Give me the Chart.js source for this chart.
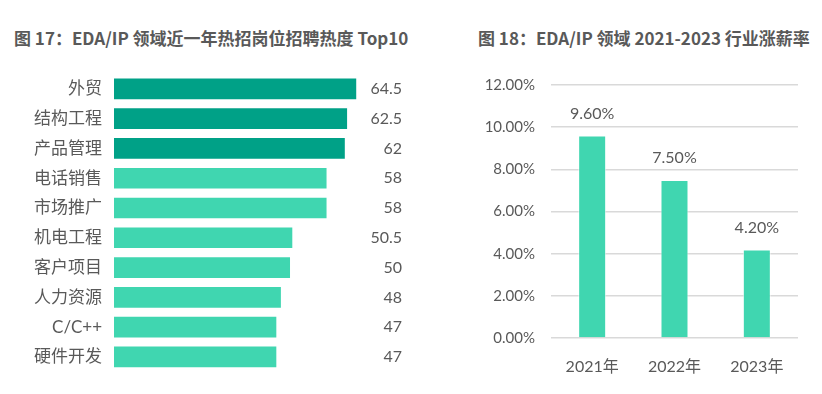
<!DOCTYPE html>
<html>
<head>
<meta charset="utf-8">
<script src="https://cdn.jsdelivr.net/npm/chart.js@4/dist/chart.umd.min.js"></script>
<style>
  body { margin: 0; background: #fff; width: 822px; height: 394px; position: relative; overflow: hidden; }
  .title { position: absolute; top: 25px; font: bold 17px "Noto Sans CJK SC", sans-serif; color: #595959; white-space: nowrap; line-height: 26px; }
  canvas { position: absolute; top: 0; }
</style>
</head>
<body>
<div class="title" style="left:14px">图 17：EDA/IP 领域近一年热招岗位招聘热度 Top10</div>
<div class="title" style="left:478px">图 18：EDA/IP 领域 2021-2023 行业涨薪率</div>
<canvas id="jobChart" style="left:0"></canvas>
<canvas id="rateChart" style="left:440px"></canvas>
<script>
// hot jobs (left)
const jobs = ['外贸', '结构工程', '产品管理', '电话销售', '市场推广', '机电工程', '客户项目', '人力资源', 'C/C++', '硬件开发'];
const jobHeat = [64.5, 62.5, 62, 58, 58, 50.5, 50, 48, 47, 47];

// salary growth (right)
const years = ['2021年', '2022年', '2023年'];
const raiseRate = [9.6, 7.5, 4.2];

const textColor = '#595959';
const darkGreen = '#00A187';
const lightGreen = '#40D6B0';
const font = 'Lato, "Noto Sans CJK SC", sans-serif';

Chart.defaults.font.family = font;
Chart.defaults.color = textColor;

function setSize(id, w, h) {
    const c = document.getElementById(id);
    c.width = w; c.height = h;
    c.style.width = w + 'px'; c.style.height = h + 'px';
    return c.getContext('2d');
}

const jobLabels = {
    id: 'jobLabels',
    afterDatasetsDraw(chart) {
        const ctx = chart.ctx;
        const meta = chart.getDatasetMeta(0);
        ctx.save();
        ctx.font = '16px ' + font;
        ctx.fillStyle = textColor;
        ctx.textAlign = 'right';
        ctx.textBaseline = 'middle';
        meta.data.forEach((bar, i) => {
            ctx.fillText(String(jobHeat[i]), chart.chartArea.right + 20, bar.y);
        });
        ctx.restore();
    }
};

new Chart(setSize('jobChart', 440, 394), {
    type: 'bar',
    data: {
        labels: jobs,
        datasets: [{
            data: jobHeat,
            backgroundColor: jobHeat.map((v, i) => i < 3 ? darkGreen : lightGreen),
            borderColor: 'rgba(255,255,255,0.6)',
            borderWidth: 1,
            barThickness: 22
        }]
    },
    options: {
        indexAxis: 'y',
        responsive: false,
        animation: false,
        layout: { padding: { top: 74, bottom: 20, right: 58, left: 0 } },
        plugins: { legend: { display: false }, tooltip: { enabled: false } },
        scales: {
            x: { display: false, min: 11.3, max: 70 },
            y: {
                grid: { display: false, drawTicks: false },
                border: { display: false },
                ticks: { font: { size: 17 }, color: textColor, padding: 12 },
                afterFit(scale) { scale.width = 114; }
            }
        }
    },
    plugins: [jobLabels]
});

const rateLabels = {
    id: 'rateLabels',
    afterDatasetsDraw(chart) {
        const ctx = chart.ctx;
        const meta = chart.getDatasetMeta(0);
        ctx.save();
        ctx.font = '16px ' + font;
        ctx.fillStyle = textColor;
        ctx.textAlign = 'center';
        ctx.textBaseline = 'middle';
        meta.data.forEach((bar, i) => {
            ctx.fillText(raiseRate[i].toFixed(2) + '%', bar.x, bar.y - 22);
        });
        ctx.restore();
    }
};

new Chart(setSize('rateChart', 382, 394), {
    type: 'bar',
    data: {
        labels: years,
        datasets: [{
            data: raiseRate,
            backgroundColor: lightGreen,
            borderColor: 'rgba(255,255,255,0.6)',
            borderWidth: 1,
            barPercentage: 0.68,
            categoryPercentage: 0.5
        }]
    },
    options: {
        responsive: false,
        animation: false,
        layout: { padding: { top: 85, bottom: 0, right: 24, left: 0 } },
        plugins: { legend: { display: false }, tooltip: { enabled: false } },
        scales: {
            x: {
                grid: { display: false, drawTicks: false },
                border: { display: false },
                ticks: { font: { size: 16 }, color: textColor, padding: 19 },
                afterFit(scale) { scale.height = 56; }
            },
            y: {
                min: 0, max: 12,
                grid: { color: '#D9D9D9', drawTicks: false, lineWidth: 1.5 },
                border: { display: false },
                ticks: {
                    stepSize: 2,
                    font: { size: 15 },
                    color: textColor,
                    padding: 16,
                    callback: v => v.toFixed(2) + '%'
                },
                afterFit(scale) { scale.width = 111; }
            }
        }
    },
    plugins: [rateLabels]
});
</script>
</body>
</html>
